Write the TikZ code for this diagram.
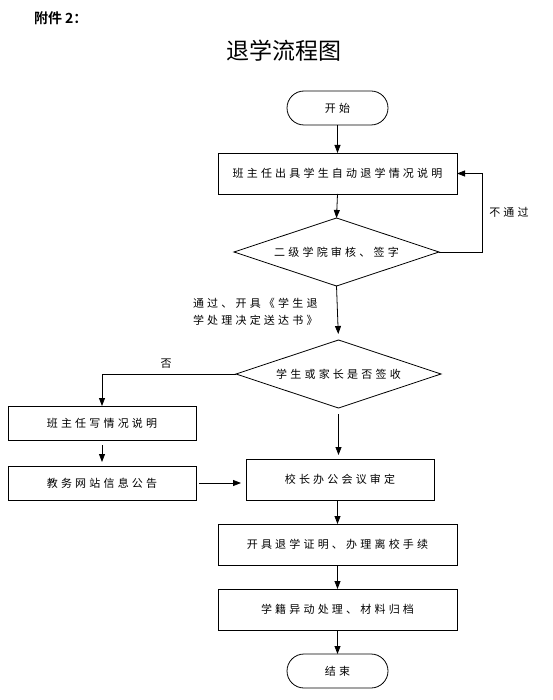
\documentclass[tikz,border=0pt]{standalone}
\usepackage{fontspec}
\setmainfont{Noto Sans CJK SC}
\newfontfamily\nodefont[LetterSpace=29]{Noto Sans CJK SC}
\newfontfamily\titlefont{Noto Sans CJK SC}
\newfontfamily\notefont{Noto Sans CJK SC Bold}
\usetikzlibrary{arrows.meta,shapes.geometric}
\tikzset{
  x=1pt, y=-1pt,
  every node/.style={inner sep=0pt, outer sep=0pt, text=black},
  txt/.style={font=\nodefont\fontsize{11}{17}\selectfont},
  box/.style={draw, line width=0.8pt, rectangle, txt, minimum width=239pt, minimum height=41pt},
  sbox/.style={draw, line width=0.8pt, rectangle, txt, minimum width=188pt, minimum height=34pt},
  term/.style={draw, line width=0.8pt, rectangle, rounded corners=17pt, txt, minimum width=101pt, minimum height=34pt},
  dec/.style={draw, line width=0.8pt, diamond, aspect=3, txt, minimum width=205pt, minimum height=68pt},
  arr/.style={draw, line width=0.8pt, -{Triangle[length=8pt,width=6pt]}},
}
\begin{document}
\begin{tikzpicture}
\useasboundingbox (0,0) rectangle (552,700);
\node[anchor=west, font=\notefont\fontsize{14}{16}\selectfont] (att) at (34,18.5) {附件 2：};
\node[font=\titlefont\fontsize{23}{27}\selectfont] (title) at (284,51) {退学流程图};

\node[term] (start) at (337.5,108) {开始};
\node[box] (b1) at (337.5,173.5) {班主任出具学生自动退学情况说明};
\node[dec] (d1) at (336.5,252) {二级学院审核、签字};
\node[dec] (d2) at (338.5,374) {学生或家长是否签收};
\node[sbox] (b2) at (102,423) {班主任写情况说明};
\node[sbox] (b3) at (102,483) {教务网站信息公告};
\node[sbox, minimum height=41pt] (b4) at (340,479.5) {校长办公会议审定};
\node[box] (b5) at (337.5,544.5) {开具退学证明、办理离校手续};
\node[box] (b6) at (337.5,609.5) {学籍异动处理、材料归档};
\node[term] (end) at (337.5,671) {结束};

\node[txt] (nopass) at (509,212) {不通过};
\node[txt, anchor=west, align=left] (pass) at (193,311.5) {通过、开具《学生退\\学处理决定送达书》};
\node[txt] (no) at (166,364) {否};

\coordinate (fbx) at (482,0);
\draw[arr] (start.south) -- (b1.north);
\draw[arr] (b1.south) -- (d1.north);
\draw[arr] (d1.east) -- (d1.east -| fbx) |- (b1.east);
\draw[arr, shorten >=6pt] (d1.south) -- (d2.north);
\draw[arr] (d2.west) -| (b2.north);
\draw[arr, shorten <=5pt, shorten >=4pt] (b2.south) -- (b3.north);
\draw[arr, shorten <=3pt, shorten >=5pt] (b3.east) -- (b3.east -| b4.west);
\draw[arr, shorten <=6pt, shorten >=4pt] (d2.south) -- (d2.south |- b4.north);
\draw[arr] (b4.south -| b5.north) -- (b5.north);
\draw[arr] (b5.south) -- (b6.north);
\draw[arr] (b6.south) -- (end.north);
\end{tikzpicture}
\end{document}
